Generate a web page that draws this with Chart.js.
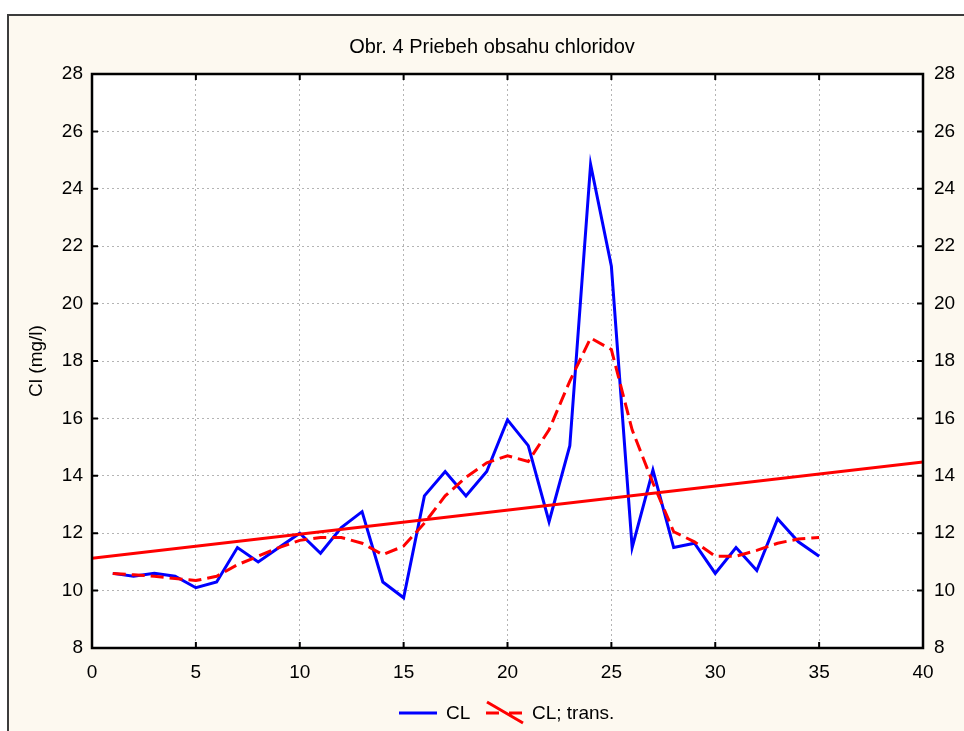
<!DOCTYPE html>
<html>
<head>
<meta charset="utf-8">
<script src="https://cdn.jsdelivr.net/npm/chart.js@4.4.1/dist/chart.umd.min.js"></script>
<style>
  html, body { margin: 0; padding: 0; background: #fff; }
  #wrap { width: 964px; height: 731px; }
</style>
</head>
<body>
<div id="wrap"><canvas id="chart" width="964" height="731"></canvas></div>
<script>
// sample number on the x axis
var samples = [1, 2, 3, 4, 5, 6, 7, 8, 9, 10, 11, 12, 13, 14, 15, 16, 17, 18,
    19, 20, 21, 22, 23, 24, 25, 26, 27, 28, 29, 30, 31, 32, 33, 34, 35];

// CL measured
var clValues = [10.6, 10.5, 10.6, 10.5, 10.1, 10.3, 11.5, 11.0, 11.5, 12.0,
    11.3, 12.2, 12.75, 10.3, 9.75, 13.3, 14.15, 13.3, 14.15, 15.95,
    15.05, 12.4, 15.05, 24.85, 21.3, 11.5, 14.2, 11.5, 11.65, 10.6,
    11.5, 10.7, 12.5, 11.7, 11.2];

// CL; trans. (smoothed)
var transValues = [10.6, 10.55, 10.5, 10.42, 10.35, 10.5, 10.9, 11.2, 11.5, 11.75,
    11.85, 11.85, 11.65, 11.25, 11.55, 12.35, 13.3, 13.95, 14.45, 14.7,
    14.5, 15.6, 17.3, 18.8, 18.4, 15.6, 13.75, 12.05, 11.7, 11.2,
    11.2, 11.4, 11.65, 11.8, 11.85];

// linear trend, end points
var trendX = [0, 40];
var trendY = [11.13, 14.48];

var xMin = 0, xMax = 40, xStep = 5;
var yMin = 8, yMax = 28, yStep = 2;

var chartTitle = 'Obr. 4 Priebeh obsahu chloridov';
var yTitle = 'Cl (mg/l)';

var FONT = "'Liberation Sans', Arial, sans-serif";

function toPoints(xs, ys) {
    return xs.map(function (x, i) { return { x: x, y: ys[i] }; });
}

// frame, cream background, white plot area
var backgroundPlugin = {
    id: 'background',
    beforeDraw: function (chart) {
        var ctx = chart.ctx;
        var a = chart.chartArea;
        ctx.save();
        ctx.fillStyle = '#ffffff';
        ctx.fillRect(0, 0, chart.width, chart.height);
        ctx.fillStyle = '#fdf9f0';
        ctx.fillRect(8, 15, chart.width, chart.height);
        ctx.strokeStyle = '#3c3c3c';
        ctx.lineWidth = 2;
        ctx.strokeRect(8, 15, chart.width + 10, chart.height + 10);
        ctx.fillStyle = '#ffffff';
        ctx.fillRect(a.left, a.top, a.right - a.left, a.bottom - a.top);
        ctx.restore();
    }
};

// plot border, inner tick marks, title, legend
var frameLegendPlugin = {
    id: 'frameLegend',
    afterDraw: function (chart) {
        var ctx = chart.ctx;
        var a = chart.chartArea;
        var sx = chart.scales.x;
        var sy = chart.scales.y;
        var tl = 6;
        ctx.save();
        ctx.strokeStyle = '#000';
        ctx.lineWidth = 2;
        ctx.beginPath();
        sx.ticks.forEach(function (t) {
            var px = sx.getPixelForValue(t.value);
            ctx.moveTo(px, a.bottom); ctx.lineTo(px, a.bottom - tl);
            ctx.moveTo(px, a.top); ctx.lineTo(px, a.top + tl);
        });
        sy.ticks.forEach(function (t) {
            var py = sy.getPixelForValue(t.value);
            ctx.moveTo(a.left, py); ctx.lineTo(a.left + tl, py);
            ctx.moveTo(a.right, py); ctx.lineTo(a.right - tl, py);
        });
        ctx.stroke();
        ctx.lineWidth = 2.5;
        ctx.strokeRect(a.left, a.top, a.right - a.left, a.bottom - a.top);

        ctx.fillStyle = '#000';
        ctx.textBaseline = 'middle';
        ctx.textAlign = 'center';
        ctx.font = '20px ' + FONT;
        ctx.fillText(chartTitle, 492, 47);

        // legend
        var ds = chart.data.datasets;
        var blue = ds[2], red = ds[1];
        var ly = 713;
        ctx.font = '19px ' + FONT;
        ctx.textAlign = 'left';

        ctx.strokeStyle = blue.borderColor;
        ctx.lineWidth = 3;
        ctx.beginPath();
        ctx.moveTo(399, ly); ctx.lineTo(437, ly);
        ctx.stroke();
        ctx.fillText(blue.label, 446, ly + 1);

        ctx.strokeStyle = red.borderColor;
        ctx.beginPath();
        ctx.moveTo(486, ly); ctx.lineTo(499, ly);
        ctx.moveTo(509, ly); ctx.lineTo(522, ly);
        ctx.moveTo(487, 702); ctx.lineTo(523, 723);
        ctx.stroke();
        ctx.fillText(red.label, 532, ly + 1);
        ctx.restore();
    }
};

var tickFont = { family: FONT, size: 19 };

new Chart(document.getElementById('chart'), {
    type: 'line',
    data: {
        datasets: [
            {
                label: 'trend',
                data: toPoints(trendX, trendY),
                borderColor: '#ff0000',
                borderWidth: 3,
                pointRadius: 0,
                tension: 0
            },
            {
                label: 'CL; trans.',
                data: toPoints(samples, transValues),
                borderColor: '#ff0000',
                borderWidth: 3,
                borderDash: [13, 6],
                pointRadius: 0,
                tension: 0
            },
            {
                label: 'CL',
                data: toPoints(samples, clValues),
                borderColor: '#0000ff',
                borderWidth: 3,
                pointRadius: 0,
                tension: 0
            }
        ]
    },
    options: {
        responsive: false,
        animation: false,
        layout: { padding: { top: 74 } },
        plugins: {
            legend: { display: false },
            tooltip: { enabled: false },
            title: { display: false }
        },
        scales: {
            x: {
                type: 'linear',
                min: xMin,
                max: xMax,
                afterFit: function (scale) { scale.height = 83; },
                ticks: { stepSize: xStep, color: '#000', font: tickFont, padding: 13, maxRotation: 0 },
                grid: { color: '#b4b4b4', lineWidth: 1, drawTicks: false },
                border: { display: false, dash: [2, 3] }
            },
            y: {
                position: 'left',
                min: yMin,
                max: yMax,
                afterFit: function (scale) { scale.width = 92; },
                title: {
                    display: true,
                    text: yTitle,
                    color: '#000',
                    font: tickFont,
                    padding: { top: 25, bottom: 0 }
                },
                ticks: { stepSize: yStep, color: '#000', font: tickFont, padding: 9 },
                grid: { color: '#b4b4b4', lineWidth: 1, drawTicks: false },
                border: { display: false, dash: [2, 3] }
            },
            y2: {
                position: 'right',
                axis: 'y',
                min: yMin,
                max: yMax,
                afterFit: function (scale) { scale.width = 41; },
                ticks: { stepSize: yStep, color: '#000', font: tickFont, padding: 11 },
                grid: { drawOnChartArea: false, drawTicks: false },
                border: { display: false }
            }
        }
    },
    plugins: [backgroundPlugin, frameLegendPlugin]
});
</script>
</body>
</html>
